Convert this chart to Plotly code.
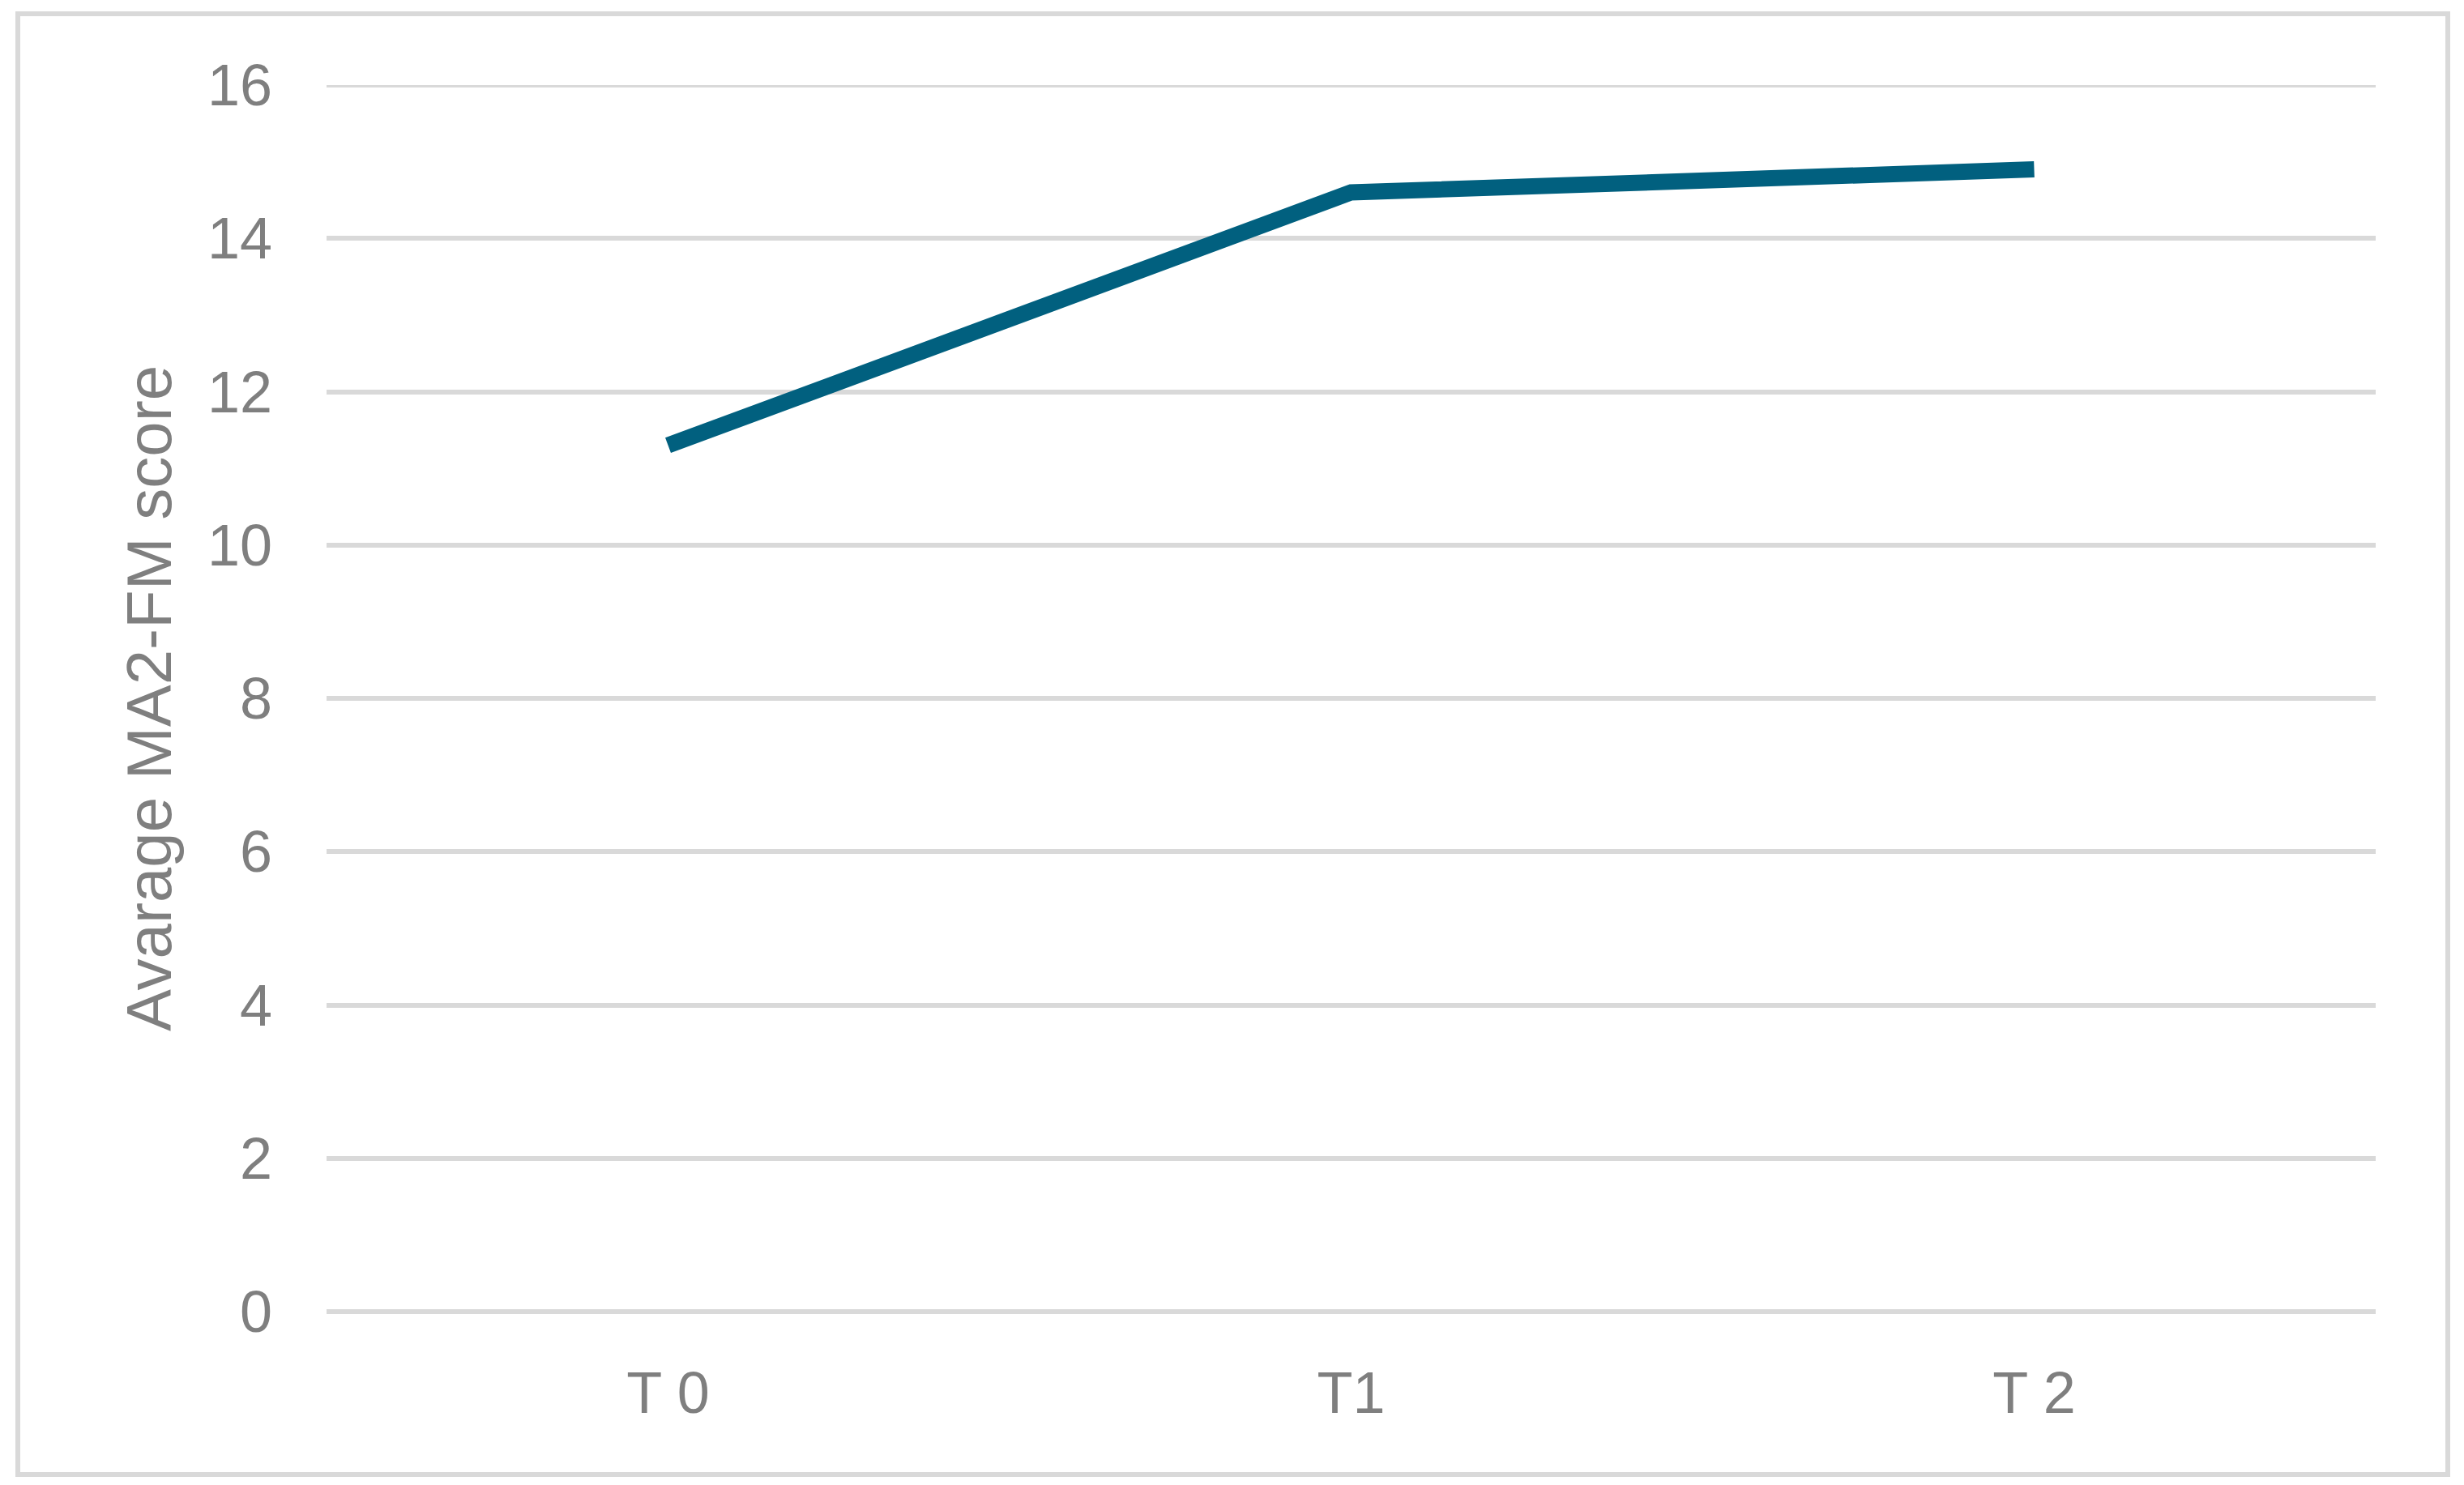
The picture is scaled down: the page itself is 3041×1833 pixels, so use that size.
import plotly.graph_objects as go

# ---- data ----
categories = ["T 0", "T1", "T 2"]
avg_score = [11.3, 14.6, 14.9]
y_ticks = [0, 2, 4, 6, 8, 10, 12, 14, 16]

W, H = 3041, 1833
OFF = 8  # page body margin offset
plot_left, plot_right, plot_top, plot_bottom = 403, 2932, 105, 1619
L = plot_left - OFF
T = plot_top - OFF
R = W - plot_right + OFF
B = H - plot_bottom + OFF
plot_w = plot_right - plot_left
plot_h = plot_bottom - plot_top

fig = go.Figure()
fig.add_trace(go.Scatter(
    x=categories, y=avg_score, mode="lines",
    line=dict(color="#01607f", width=20),
    hoverinfo="skip", showlegend=False,
))

def px_to_paper_x(px):
    return (px - plot_left) / plot_w

def px_to_paper_y(py):
    return (plot_bottom - py) / plot_h

fig.add_shape(
    type="rect", xref="paper", yref="paper",
    x0=px_to_paper_x(22), x1=px_to_paper_x(3021),
    y0=px_to_paper_y(1820), y1=px_to_paper_y(17),
    line=dict(color="#d9d9d9", width=6), fillcolor="rgba(0,0,0,0)", layer="below",
)
# top gridline (at the range edge, plotly omits it)
fig.add_shape(
    type="line", xref="paper", yref="y",
    x0=0, x1=1, y0=y_ticks[-1], y1=y_ticks[-1],
    line=dict(color="#d9d9d9", width=6), layer="below",
)

font_fam = "Liberation Sans, Arial, sans-serif"
fig.update_layout(
    width=W, height=H,
    margin=dict(l=L, r=R, t=T, b=B, pad=0),
    paper_bgcolor="white", plot_bgcolor="white",
    font=dict(family=font_fam, color="#7f7f7f", size=72),
    xaxis=dict(
        type="category", range=[-0.5, 2.5],
        showgrid=False, showline=False, zeroline=False,
        ticks="", ticklabelstandoff=52,
        tickfont=dict(size=72, color="#7f7f7f", family=font_fam),
    ),
    yaxis=dict(
        range=[0, 16], tickvals=y_ticks,
        showgrid=True, gridcolor="#d9d9d9", gridwidth=6,
        zeroline=True, zerolinecolor="#d9d9d9", zerolinewidth=6,
        showline=False, ticks="", ticklabelstandoff=66,
        tickfont=dict(size=72, color="#7f7f7f", family=font_fam),
        title=dict(text="Avarage MA2-FM score", standoff=18,
                   font=dict(size=78, color="#7f7f7f", family=font_fam)),
    ),
)

fig.write_html("out.html")
